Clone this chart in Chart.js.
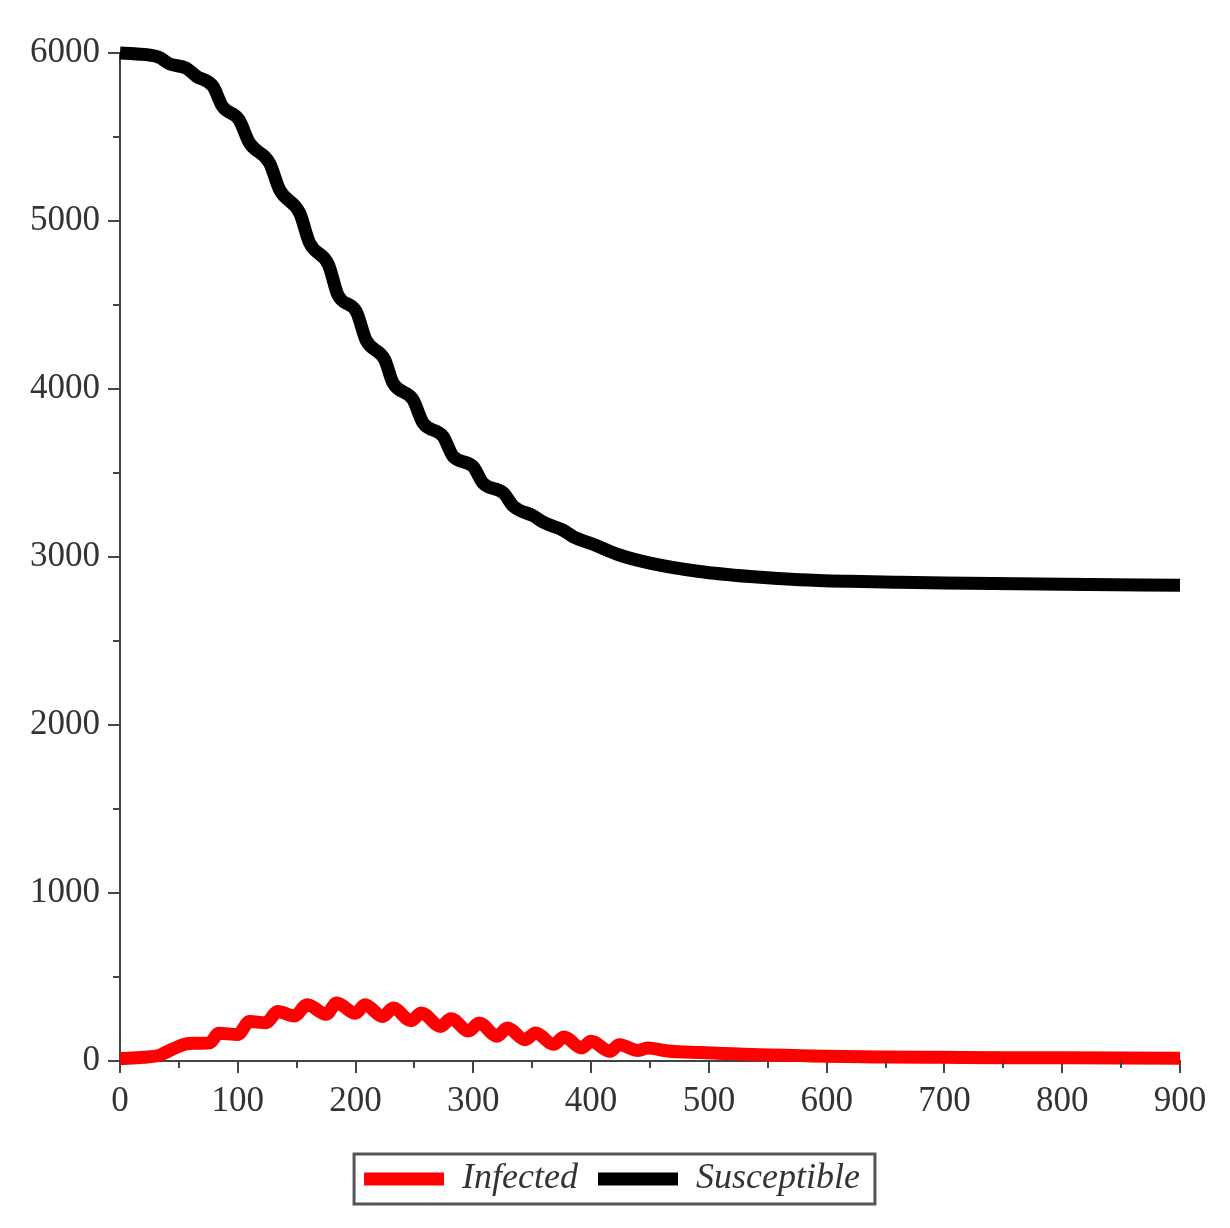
<!DOCTYPE html>
<html>
<head>
<meta charset="utf-8">
<script src="https://cdn.jsdelivr.net/npm/chart.js@4.4.1/dist/chart.umd.min.js"></script>
<style>
  html, body { margin: 0; padding: 0; background: #fff; }
  #c { display: block; }
</style>
</head>
<body>
<canvas id="c" width="1230" height="1228"></canvas>
<script>
// ---- data ----
const infectedT = [0, 20, 34, 40, 55, 62, 76, 84, 100, 110, 124, 134, 148, 159, 175, 184, 200, 208, 223, 232, 247, 256, 272, 281, 296, 305, 320, 329, 344, 353, 368, 377, 392, 400, 416, 424, 440, 448, 465, 493, 521, 550, 578, 600, 650, 700, 750, 800, 850, 900];
const infected  = [15, 22, 35, 55, 100, 105, 108, 165, 158, 235, 228, 295, 268, 335, 278, 345, 284, 335, 265, 315, 240, 286, 206, 252, 178, 226, 148, 196, 127, 167, 99, 143, 78, 117, 58, 97, 62, 77, 60, 50, 43, 36, 32, 28, 24, 22, 20, 19, 18, 17];

const susceptibleT = [0, 12, 33, 42, 56, 65, 79, 87, 101, 110, 127, 135.5, 152.5, 161, 177, 185, 200.7, 209, 224.7, 231.8, 248.7, 257.3, 274.3, 282.8, 299.7, 308.2, 325.6, 334, 351, 360, 376, 385, 400, 424, 450, 492, 535, 577, 620, 662, 700, 800, 900];
const susceptible  = [6000, 5995, 5975, 5935, 5911, 5861, 5801, 5682, 5603, 5464, 5345, 5186, 5048, 4869, 4740, 4560, 4460, 4290, 4175, 4036, 3937, 3798, 3718, 3599, 3540, 3440, 3381, 3302, 3245, 3205, 3160, 3120, 3080, 3012, 2964, 2914, 2884, 2865, 2855, 2849, 2845, 2838, 2832];

const xTickValues = [0, 100, 200, 300, 400, 500, 600, 700, 800, 900];
const yTickValues = [0, 1000, 2000, 3000, 4000, 5000, 6000];
const xMinorTicks = [50, 150, 250, 350, 450, 550, 650, 750, 850];
const yMinorTicks = [500, 1500, 2500, 3500, 4500, 5500];

const seriesNames = ['Infected', 'Susceptible'];
const seriesColors = ['#ff0000', '#000000'];

// ---- build chart ----
const toPoints = (xs, ys) => xs.map((x, i) => ({ x: x, y: ys[i] }));
const axisColor = '#444444';
const textColor = '#333333';
const serif = '"Liberation Serif", "DejaVu Serif", serif';

const minorTicksPlugin = {
  id: 'minorTicks',
  afterDraw(chart) {
    const ctx = chart.ctx;
    const xs = chart.scales.x, ys = chart.scales.y;
    ctx.save();
    ctx.strokeStyle = axisColor;
    ctx.lineWidth = 2;
    ctx.beginPath();
    xMinorTicks.forEach(v => {
      const px = Math.round(xs.getPixelForValue(v));
      ctx.moveTo(px, xs.top);
      ctx.lineTo(px, xs.top + 7);
    });
    yMinorTicks.forEach(v => {
      const py = Math.round(ys.getPixelForValue(v));
      ctx.moveTo(ys.right, py);
      ctx.lineTo(ys.right - 7, py);
    });
    ctx.stroke();
    ctx.restore();
  }
};

// shift the legend band so it is centred like the reference
const legendShiftPlugin = {
  id: 'legendShift',
  afterLayout(chart) {
    const lg = chart.legend;
    if (!lg) return;
    lg.left = lg.left + 44;
    lg.width = lg.right - lg.left;
  }
};

const legendBorderPlugin = {
  id: 'legendBorder',
  afterDraw(chart) {
    const lg = chart.legend;
    if (!lg || !lg.legendHitBoxes || !lg.legendHitBoxes.length) return;
    const hb = lg.legendHitBoxes;
    const first = hb[0], last = hb[hb.length - 1];
    const cy = first.top + first.height / 2;
    const left = first.left - 10;
    const right = last.left + last.width + 15;
    const ctx = chart.ctx;
    ctx.save();
    ctx.strokeStyle = '#555555';
    ctx.lineWidth = 3;
    ctx.strokeRect(left, cy - 25, right - left, 50);
    ctx.restore();
  }
};

new Chart(document.getElementById('c'), {
  type: 'line',
  data: {
    datasets: [
      {
        label: seriesNames[0],
        data: toPoints(infectedT, infected),
        borderColor: seriesColors[0],
        backgroundColor: seriesColors[0],
        borderWidth: 13,
        pointRadius: 0,
        cubicInterpolationMode: 'monotone',
        clip: false
      },
      {
        label: seriesNames[1],
        data: toPoints(susceptibleT, susceptible),
        borderColor: seriesColors[1],
        backgroundColor: seriesColors[1],
        borderWidth: 13,
        pointRadius: 0,
        cubicInterpolationMode: 'monotone',
        clip: false
      }
    ]
  },
  options: {
    responsive: false,
    animation: false,
    devicePixelRatio: 1,
    layout: { padding: { left: 0, right: 50, top: 53, bottom: 21 } },
    scales: {
      x: {
        type: 'linear',
        min: 0, max: 900,
        z: 1,
        afterBuildTicks: s => { s.ticks = xTickValues.map(v => ({ value: v })); },
        afterFit: s => { s.height = 80; },
        border: { display: true, color: axisColor, width: 2 },
        grid: { drawOnChartArea: false, drawTicks: true, tickLength: 12, color: axisColor, lineWidth: 2 },
        ticks: { color: textColor, font: { family: serif, size: 35 }, padding: 8, maxRotation: 0, autoSkip: false,
                 callback: v => String(v) }
      },
      y: {
        type: 'linear',
        min: 0, max: 6000,
        z: 1,
        afterBuildTicks: s => { s.ticks = yTickValues.map(v => ({ value: v })); },
        afterFit: s => { s.width = 120; },
        border: { display: true, color: axisColor, width: 2 },
        grid: { drawOnChartArea: false, drawTicks: true, tickLength: 12, color: axisColor, lineWidth: 2 },
        ticks: { color: textColor, font: { family: serif, size: 35 }, padding: 8, autoSkip: false,
                 callback: v => String(v) }
      }
    },
    plugins: {
      tooltip: { enabled: false },
      legend: {
        position: 'bottom',
        labels: {
          boxWidth: 80,
          boxHeight: 13,
          padding: 20,
          color: textColor,
          font: { family: serif, size: 36, style: 'italic' },
          generateLabels: chart => Chart.defaults.plugins.legend.labels.generateLabels(chart).map(l => Object.assign(l, { lineWidth: 0 }))
        }
      }
    }
  },
  plugins: [minorTicksPlugin, legendShiftPlugin, legendBorderPlugin]
});
</script>
</body>
</html>
